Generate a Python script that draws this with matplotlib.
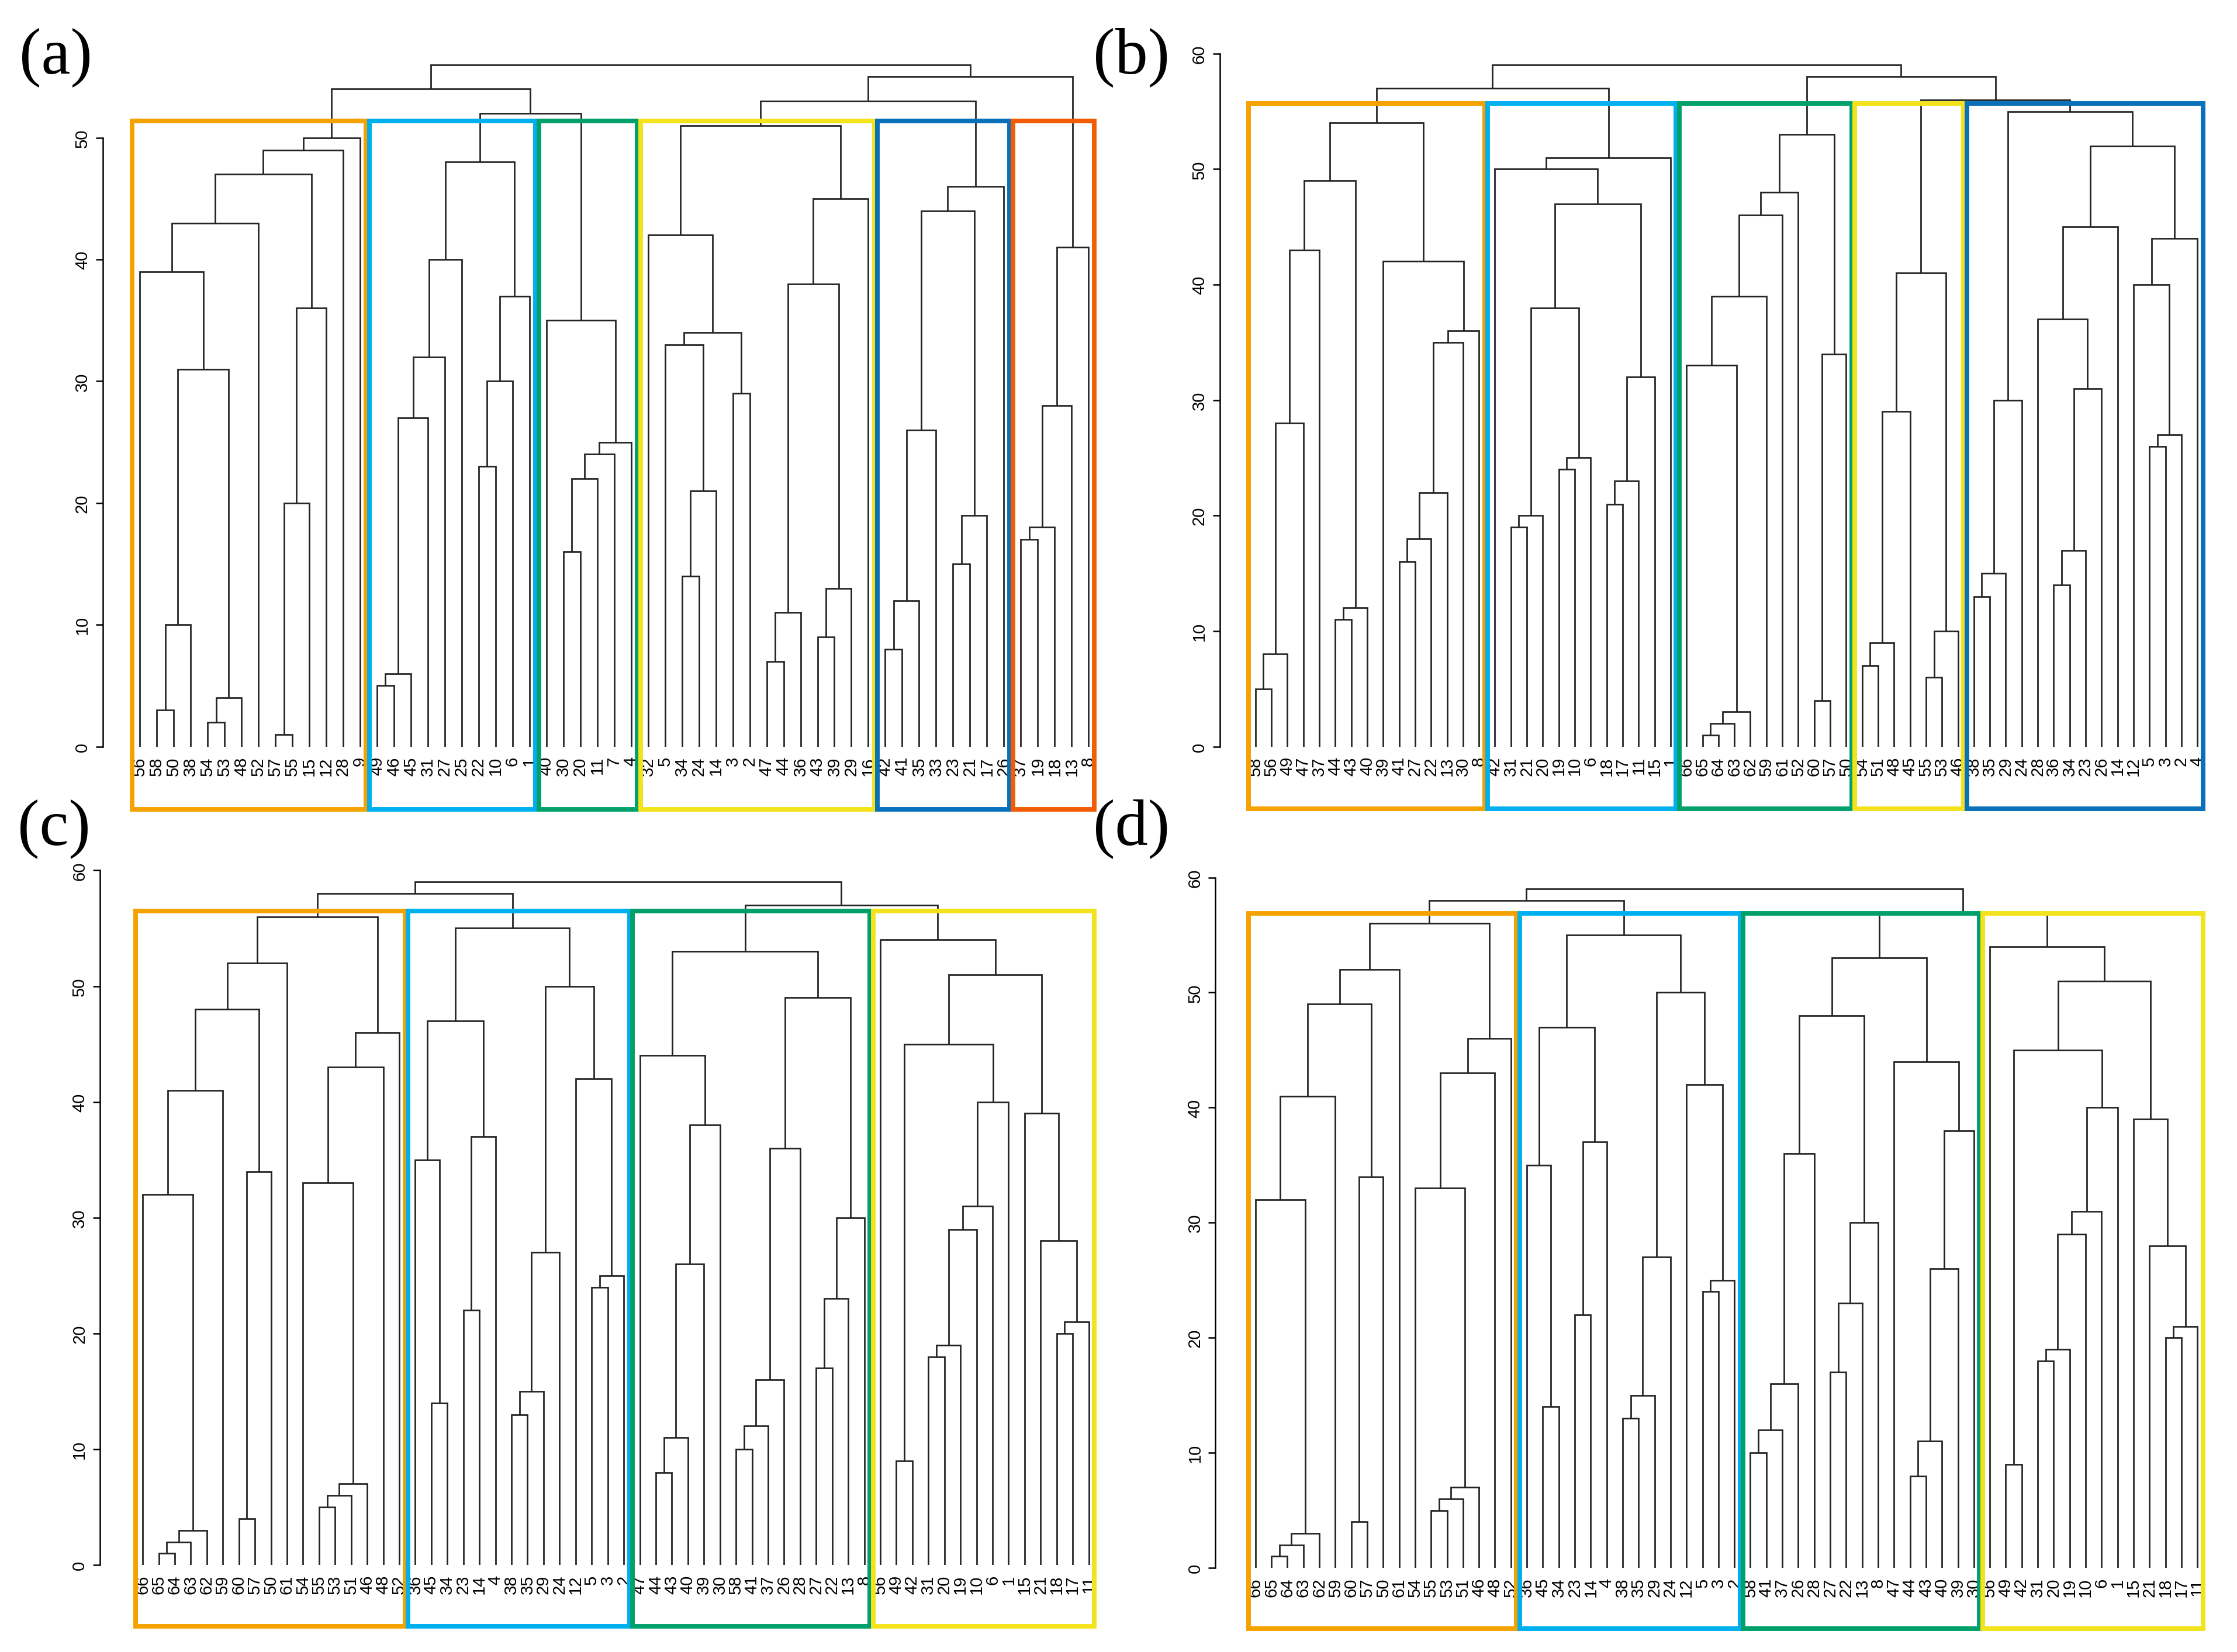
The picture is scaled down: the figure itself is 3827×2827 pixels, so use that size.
import matplotlib
matplotlib.use("Agg")
import matplotlib.pyplot as plt
from matplotlib.patches import Rectangle

plt.rcParams['font.family'] = ['Liberation Sans', 'DejaVu Sans']

# ---- Data: dendrogram clusters as [merge_height, left, right]; bare ints are leaf labels ----
# Panel (a)
A_orange = [50, [49, [47, [43, [39, 56, [31, [10, [3, 58, 50], 38], [4, [2, 54, 53], 48]]], 52],
                      [36, [20, [1, 57, 55], 15], 12]], 28], 9]
A_blue = [48, [40, [32, [27, [6, [5, 49, 46], 45], 31], 27], 25], [37, [30, [23, 22, 10], 6], 1]]
A_green = [35, 40, [25, [24, [22, [16, 30, 20], 11], 7], 4]]
A_yellow = [51, [42, 32, [34, [33, 5, [21, [14, 34, 24], 14]], [29, 3, 2]]],
            [45, [38, [11, [7, 47, 44], 36], [13, [9, 43, 39], 29]], 16]]
A_dkblue = [46, [44, [26, [12, [8, 42, 41], 35], 33], [19, [15, 23, 21], 17]], 26]
A_red = [41, [28, [18, [17, 37, 19], 18], 13], 8]
tree_a = [56, [54, A_orange, [52, A_blue, A_green]], [55, [53, A_yellow, A_dkblue], A_red]]

# Panel (b)
B_orange = [54, [49, [43, [28, [8, [5, 58, 56], 49], 47], 37], [12, [11, 44, 43], 40]],
            [42, 39, [36, [35, [22, [18, [16, 41, 27], 22], 13], 30], 8]]]
B_blue = [51, [50, 42, [47, [38, [20, [19, 31, 21], 20], [25, [24, 19, 10], 6]],
                         [32, [23, [21, 18, 17], 11], 15]]], 1]
B_green = [53, [48, [46, [39, [33, 66, [3, [2, [1, 65, 64], 63], 62]], 59], 61], 52],
           [34, [4, 60, 57], 50]]
B_yellow = [41, [29, [9, [7, 54, 51], 48], 45], [10, [6, 55, 53], 46]]
B_dkblue = [55, [30, [15, [13, 38, 35], 29], 24],
            [52, [45, [37, 28, [31, [17, [14, 36, 34], 23], 26]], 14],
             [44, [40, 12, [27, [26, 5, 3], 2]], 4]]]
tree_b = [59, [57, B_orange, B_blue], [58, B_green, [56, B_yellow, B_dkblue]]]

# Panel (c)
C_orange = [56, [52, [48, [41, [32, 66, [3, [2, [1, 65, 64], 63], 62]], 59], [34, [4, 60, 57], 50]], 61],
            [46, [43, [33, 54, [7, [6, [5, 55, 53], 51], 46]], 48], 52]]
C_blue = [55, [47, [35, 36, [14, 45, 34]], [37, [22, 23, 14], 4]],
          [50, [27, [15, [13, 38, 35], 29], 24], [42, 12, [25, [24, 5, 3], 2]]]]
C_green = [53, [44, 47, [38, [26, [11, [8, 44, 43], 40], 39], 30]],
           [49, [36, [16, [12, [10, 58, 41], 37], 26], 28], [30, [23, [17, 27, 22], 13], 8]]]
C_yellow = [54, 56, [51, [45, [9, 49, 42], [40, [31, [29, [19, [18, 31, 20], 19], 10], 6], 1]],
                     [39, 15, [28, 21, [21, [20, 18, 17], 11]]]]]
tree_c = [59, [58, C_orange, C_blue], [57, C_green, C_yellow]]

# Panel (d)
D_orange = [56, [52, [49, [41, [32, 66, [3, [2, [1, 65, 64], 63], 62]], 59], [34, [4, 60, 57], 50]], 61],
            [46, [43, [33, 54, [7, [6, [5, 55, 53], 51], 46]], 48], 52]]
D_blue = [55, [47, [35, 36, [14, 45, 34]], [37, [22, 23, 14], 4]],
          [50, [27, [15, [13, 38, 35], 29], 24], [42, 12, [25, [24, 5, 3], 2]]]]
D_green = [53, [48, [36, [16, [12, [10, 58, 41], 37], 26], 28], [30, [23, [17, 27, 22], 13], 8]],
           [44, 47, [38, [26, [11, [8, 44, 43], 40], 39], 30]]]
D_yellow = [54, 56, [51, [45, [9, 49, 42], [40, [31, [29, [19, [18, 31, 20], 19], 10], 6], 1]],
                     [39, 15, [28, 21, [21, [20, 18, 17], 11]]]]]
tree_d = [59, [58, D_orange, D_blue], [57, D_green, D_yellow]]

panel_names = ["(a)", "(b)", "(c)", "(d)"]
y_ticks_a = [0, 10, 20, 30, 40, 50]
y_ticks_bcd = [0, 10, 20, 30, 40, 50, 60]

# ---- Styling ----
ORANGE = "#F5A200"
LBLUE = "#00B0EE"
GREEN = "#00A06C"
YELLOW = "#F3E31C"
DBLUE = "#0A70BA"
RED = "#F25C05"

W, H = 1568.0, 1159.0   # layout grid (reference pixels)
fig = plt.figure(figsize=(3827 / 300, 2828 / 300), dpi=300)

panels = [
    dict(tree=tree_a, groups=[A_orange, A_blue, A_green, A_yellow, A_dkblue, A_red],
         colors=[ORANGE, LBLUE, GREEN, YELLOW, DBLUE, RED], yticks=y_ticks_a,
         spine=72, x0=98, dx=11.875, y0=524, py=8.54, btop=51.4, bbot=5.15,
         lab=(39, 40)),
    dict(tree=tree_b, groups=[B_orange, B_blue, B_green, B_yellow, B_dkblue],
         colors=[ORANGE, LBLUE, GREEN, YELLOW, DBLUE], yticks=y_ticks_bcd,
         spine=855, x0=880, dx=11.19, y0=524, py=8.1, btop=55.7, bbot=5.4,
         lab=(793, 40)),
    dict(tree=tree_c, groups=[C_orange, C_blue, C_green, C_yellow],
         colors=[ORANGE, LBLUE, GREEN, YELLOW], yticks=y_ticks_bcd,
         spine=70, x0=100, dx=11.24, y0=1098, py=8.12, btop=56.5, bbot=5.3,
         lab=(38, 581)),
    dict(tree=tree_d, groups=[D_orange, D_blue, D_green, D_yellow],
         colors=[ORANGE, LBLUE, GREEN, YELLOW], yticks=y_ticks_bcd,
         spine=852, x0=880, dx=11.19, y0=1100, py=8.07, btop=56.9, bbot=5.3,
         lab=(793, 581)),
]


def leaves(t):
    if isinstance(t, int):
        return [t]
    return leaves(t[1]) + leaves(t[2])


def draw(ax, t, pos):
    if isinstance(t, int):
        return pos[t], 0.0
    h, l, r = t
    xl, hl = draw(ax, l, pos)
    xr, hr = draw(ax, r, pos)
    ax.plot([xl, xl, xr, xr], [hl, h, h, hr], color="#222222", lw=0.65,
            solid_capstyle="butt", solid_joinstyle="miter")
    return (xl + xr) / 2.0, h


for p, name in zip(panels, panel_names):
    order = leaves(p["tree"])
    n = len(order)
    pos = {lab: i for i, lab in enumerate(order)}
    ytop = 60
    xr_data = n - 1 + 1.2
    xl_data = (p["spine"] - p["x0"]) / p["dx"]
    right_px = p["x0"] + xr_data * p["dx"]
    left = p["spine"] / W
    bottom = 1 - p["y0"] / H
    top = 1 - (p["y0"] - p["py"] * ytop) / H
    ax = fig.add_axes([left, bottom, right_px / W - left, top - bottom])
    ax.set_xlim(xl_data, xr_data)
    ax.set_ylim(0, ytop)

    draw(ax, p["tree"], pos)

    for s in ["top", "right", "bottom"]:
        ax.spines[s].set_visible(False)
    ax.spines["left"].set_bounds(p["yticks"][0], p["yticks"][-1])
    ax.spines["left"].set_linewidth(0.6)
    ax.set_yticks(p["yticks"])
    ax.set_yticklabels([str(v) for v in p["yticks"]], rotation=90, va="center")
    ax.tick_params(axis="y", length=3, width=0.6, labelsize=7, pad=2)
    ax.set_xticks(range(n))
    ax.set_xticklabels([str(v) for v in order], rotation=90)
    ax.tick_params(axis="x", length=0, labelsize=7, pad=4)

    for g, c in zip(p["groups"], p["colors"]):
        gl = leaves(g)
        first = pos[gl[0]]
        last = pos[gl[-1]]
        x_a = first - 0.45
        x_b = last + 0.35
        rect = Rectangle((x_a, -p["bbot"]), x_b - x_a, p["btop"] + p["bbot"],
                         fill=False, edgecolor=c, lw=1.9, clip_on=False, zorder=5,
                         joinstyle="miter")
        ax.add_patch(rect)

    fig.text(p["lab"][0] / W, 1 - p["lab"][1] / H, name, ha="center", va="center",
             fontsize=27, family=["Liberation Serif", "DejaVu Serif"])

fig.savefig("out.png", dpi=300)
